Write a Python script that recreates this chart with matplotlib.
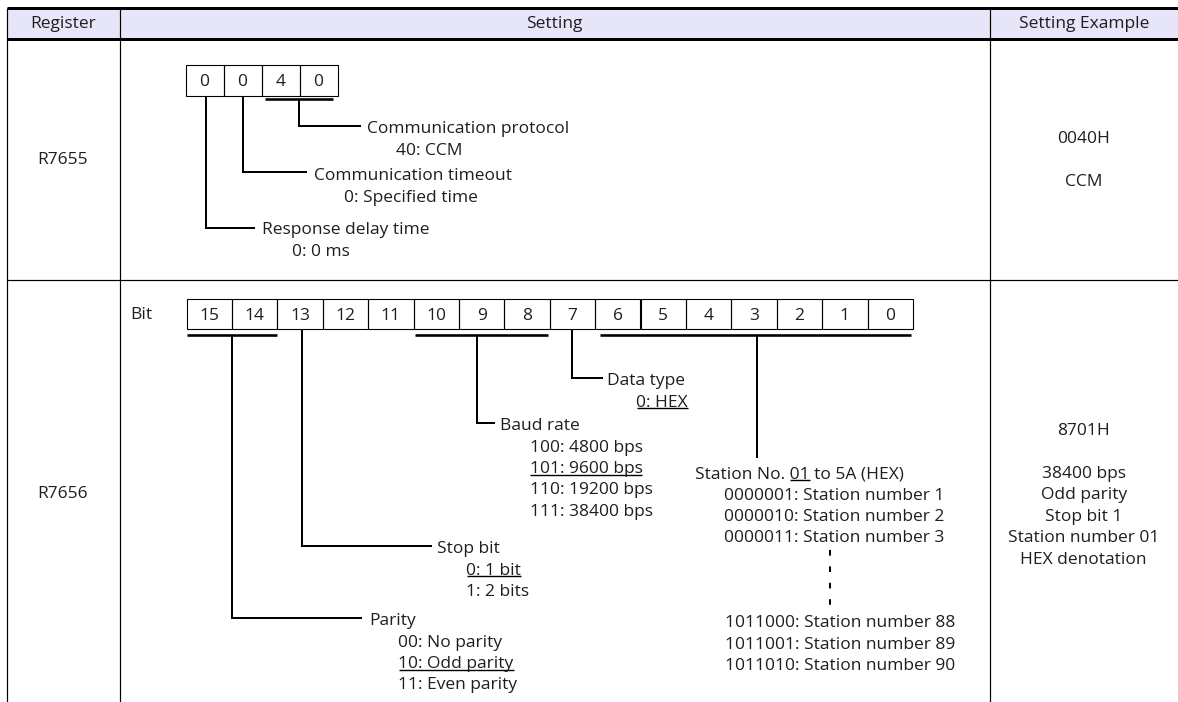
"""Register setting table: R7655 / R7656 bit layout."""

import matplotlib

matplotlib.use("Agg")
import matplotlib.pyplot as plt
from matplotlib.patches import Rectangle

W, H = 1178, 702
FONT = ["Open Sans", "DejaVu Sans"]
FS = 12.5
TXT = "#1e1e1e"
HEAD_BG = "#e6e6f8"

# ---- content -------------------------------------------------------------
header_labels = ["Register", "Setting", "Setting Example"]
registers = ["R7655", "R7656"]
r7655_digits = ["0", "0", "4", "0"]
r7656_bits = [str(b) for b in range(15, -1, -1)]
example_r7655 = ["0040H", "", "CCM"]
example_r7656 = ["8701H", "", "38400 bps", "Odd parity", "Stop bit 1",
                 "Station number 01", "HEX denotation"]

protocol_lines = ["Communication protocol", "40: CCM"]
timeout_lines = ["Communication timeout", "0: Specified time"]
delay_lines = ["Response delay time", "0: 0 ms"]
data_type_lines = ["Data type", "0: HEX"]
baud_lines = ["Baud rate", "100: 4800 bps", "101: 9600 bps",
              "110: 19200 bps", "111: 38400 bps"]
station_lines = ["Station No. 01 to 5A (HEX)", "0000001: Station number 1",
                 "0000010: Station number 2", "0000011: Station number 3"]
station_tail = ["1011000: Station number 88", "1011001: Station number 89",
                "1011010: Station number 90"]
stop_lines = ["Stop bit", "0: 1 bit", "1: 2 bits"]
parity_lines = ["Parity", "00: No parity", "10: Odd parity", "11: Even parity"]

# text -> part of it that is underlined (default setting)
underlined = {
    "0: HEX": "0: HEX",
    "101: 9600 bps": "101: 9600 bps",
    "Station No. 01 to 5A (HEX)": "01",
    "0: 1 bit": "0: 1 bit",
    "10: Odd parity": "10: Odd parity",
}

# ---- layout (pixels, y downward) -------------------------------------------
X_LEFT, X_REG, X_EX, X_RIGHT = 6.5, 119.5, 989.5, W
Y_TOP, Y_HEAD, Y_ROW = 7.5, 38.5, 279.5
STEP = 21.4
INDENT = 29.5

fig = plt.figure(figsize=(W / 100, H / 100), dpi=100)
ax = fig.add_axes([0, 0, 1, 1])
ax.set_xlim(0, W)
ax.set_ylim(H, 0)
ax.axis("off")
renderer = fig.canvas.get_renderer()
font_px = FS / 0.72


def px(n):
    return n * 0.72


def put(x, y, s, ha="left"):
    # y is the vertical centre of capitals
    return ax.text(x, y + 0.36 * font_px, s, ha=ha, va="baseline",
                   family=FONT, fontsize=FS, color=TXT)


def width_of(s, x, y):
    t = put(x, y, s)
    bb = t.get_window_extent(renderer).transformed(ax.transData.inverted())
    t.remove()
    return bb.x0, bb.x1


def line(xs, ys, w=2.0, **kw):
    ax.plot(xs, ys, color="black", lw=px(w), solid_capstyle="butt",
            solid_joinstyle="miter", **kw)


def block(lines, x, y, indent=INDENT, step=STEP):
    for i, s in enumerate(lines):
        xi = x if i == 0 else x + indent
        yi = y + i * step
        put(xi, yi, s)
        if s in underlined:
            part = underlined[s]
            k = s.index(part) + len(part)
            x0, x1 = width_of(s[:k], xi, yi)
            p0, p1 = width_of(part, xi, yi)
            line([x1 - (p1 - p0), x1], [yi + 8, yi + 8], w=1.4)


# ---- table frame -----------------------------------------------------------
ax.add_patch(Rectangle((X_LEFT, Y_TOP), X_RIGHT - X_LEFT, Y_HEAD - Y_TOP,
                       facecolor=HEAD_BG, edgecolor="none"))
line([X_LEFT, X_RIGHT], [Y_TOP, Y_TOP], w=3)
line([X_LEFT, X_RIGHT], [Y_HEAD, Y_HEAD], w=3)
line([X_LEFT, X_RIGHT], [Y_ROW, Y_ROW], w=1.2)
for xv in (X_LEFT, X_REG, X_EX):
    line([xv, xv], [Y_TOP, H], w=1.2)

col_centres = [(X_LEFT + X_REG) / 2, (X_REG + X_EX) / 2, (X_EX + X_RIGHT) / 2]
for cx, lab in zip(col_centres, header_labels):
    put(cx, 22, lab, ha="center")

put(col_centres[0], 158, registers[0], ha="center")
put(col_centres[0], 492, registers[1], ha="center")

for i, s in enumerate(example_r7655):
    put(col_centres[2], 137 + i * 21.5, s, ha="center")
for i, s in enumerate(example_r7656):
    put(col_centres[2], 429 + i * 21.4, s, ha="center")

# ---- R7655 digit boxes -----------------------------------------------------
bx0, by0, bw, bh = 185.5, 64.5, 38, 31
for i, d in enumerate(r7655_digits):
    ax.add_patch(Rectangle((bx0 + i * bw, by0), bw, bh, facecolor="none",
                           edgecolor="black", lw=px(1.1)))
    put(bx0 + (i + 0.5) * bw, by0 + bh / 2, d, ha="center")
line([265, 333], [99, 99], w=2.6)

line([299, 299, 361], [99, 126, 126])
block(protocol_lines, 367, 127)
line([243, 243, 307], [95.5, 172, 172])
block(timeout_lines, 314, 174)
line([206, 206, 255], [95.5, 228, 228])
block(delay_lines, 262, 228)

# ---- R7656 bit boxes -------------------------------------------------------
put(130, 313, "Bit")
cx0, cy0, cw, ch = 186.5, 298.5, 45.4, 30
for i, b in enumerate(r7656_bits):
    ax.add_patch(Rectangle((cx0 + i * cw, cy0), cw, ch, facecolor="none",
                           edgecolor="black", lw=px(1.1)))
    put(cx0 + (i + 0.5) * cw, cy0 + ch / 2, b, ha="center")
for xa, xb in ((187, 277), (415, 548), (600, 911)):
    line([xa, xb], [335, 335], w=2.6)

line([572, 572, 603], [328.5, 378, 378])
block(data_type_lines, 607, 379)
line([477, 477, 495], [335, 423, 423])
block(baud_lines, 500, 424)
line([757, 757], [335, 458])
block(station_lines, 695, 472)
ax.plot([830, 830], [550, 606], color="black", lw=px(2),
        linestyle=(0, (2.8, 5.4)), dash_capstyle="butt")
block(station_tail, 725, 621, indent=0)
line([302, 302, 432], [328.5, 546, 546])
block(stop_lines, 437, 547)
line([232, 232, 362], [335, 618, 618])
block(parity_lines, 369, 619)

fig.savefig("out.png", dpi=100, facecolor="white")
